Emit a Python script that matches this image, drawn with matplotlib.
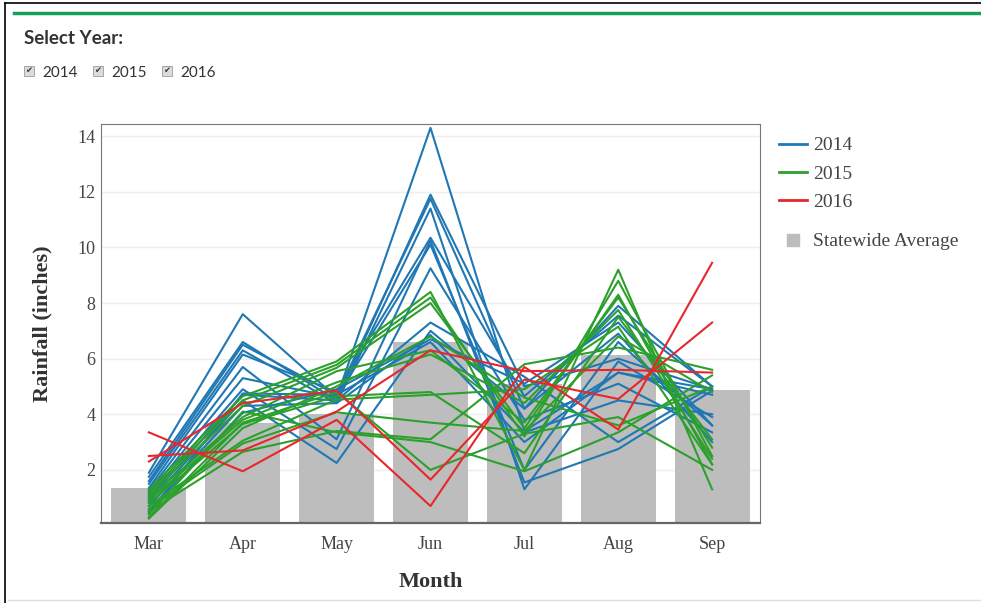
import numpy as np
import matplotlib.pyplot as plt
from matplotlib.patches import Rectangle
from matplotlib.lines import Line2D

months = ['Mar', 'Apr', 'May', 'Jun', 'Jul', 'Aug', 'Sep']
statewide_avg = [1.36, 3.7, 4.0, 6.6, 5.1, 6.15, 4.87]

# rainfall per site (inches), Mar..Sep
rain_2014 = [
    [1.90, 7.60, 4.60, 14.30, 3.40, 5.50, 4.90],
    [1.75, 6.60, 4.50, 11.90, 5.00, 6.00, 4.90],
    [1.60, 6.50, 4.70, 11.75, 4.20, 7.90, 5.00],
    [1.50, 6.30, 4.40, 11.40, 1.30, 5.90, 3.90],
    [1.35, 6.15, 4.80, 10.35, 4.65, 7.55, 5.00],
    [1.25, 5.70, 3.10, 10.25, 1.55, 2.75, 4.85],
    [1.15, 5.30, 4.60, 10.10, 2.00, 6.60, 3.60],
    [1.05, 4.90, 2.75, 9.25, 3.80, 5.10, 3.35],
    [0.95, 4.70, 4.50, 7.30, 5.35, 3.00, 5.00],
    [0.85, 4.50, 2.25, 7.00, 4.20, 6.90, 3.00],
    [0.70, 4.30, 4.40, 6.85, 3.35, 4.50, 4.00],
    [0.55, 4.05, 4.90, 6.70, 5.10, 7.30, 3.60],
    [0.45, 4.75, 4.70, 6.60, 3.00, 5.50, 4.70],
]
rain_2015 = [
    [1.30, 4.65, 5.90, 8.40, 2.00, 9.20, 1.30],
    [1.20, 4.50, 5.78, 8.20, 3.20, 8.80, 2.50],
    [1.10, 4.30, 5.67, 8.00, 3.50, 8.30, 2.20],
    [1.00, 3.90, 5.55, 6.30, 3.70, 8.20, 2.80],
    [0.90, 3.80, 5.15, 6.15, 4.40, 7.75, 2.40],
    [0.80, 3.65, 4.65, 4.80, 2.60, 7.50, 3.10],
    [0.70, 3.05, 4.53, 4.70, 4.90, 7.15, 2.20],
    [0.60, 2.95, 4.07, 3.70, 3.40, 6.80, 4.80],
    [0.50, 2.65, 3.40, 3.10, 5.80, 6.40, 5.60],
    [0.40, 4.10, 3.35, 3.00, 1.95, 3.35, 5.40],
    [0.30, 3.70, 4.80, 2.00, 3.30, 3.90, 2.00],
    [0.25, 3.50, 5.00, 6.80, 4.60, 3.60, 5.00],
]
rain_2016 = [
    [3.35, 1.95, 3.80, 0.70, 5.70, 3.45, 9.45],
    [2.30, 4.40, 4.85, 1.65, 5.25, 4.55, 7.30],
    [2.50, 2.70, 4.10, 6.30, 5.55, 5.60, 5.50],
]
years = ['2014', '2015', '2016']
year_colors = ['#1f78b4', '#2ca02c', '#e8262b']

fig = plt.figure(figsize=(9.81, 6.03), dpi=100)

# page frame / header
fig.add_artist(Line2D([0.005, 0.005], [0, 0.995], color='black', lw=1.2))
fig.add_artist(Line2D([0.005, 1], [0.995, 0.995], color='black', lw=1.2))
fig.add_artist(Line2D([0.014, 1], [0.979, 0.979], color='#12a05a', lw=2.5))
fig.add_artist(Line2D([0.008, 1], [0.005, 0.005], color='#dddddd', lw=1))

fig.text(24 / 981, 1 - 39 / 603, 'Select Year:', family='Lato', weight='bold',
         fontsize=13.5, color='#333333', va='center', ha='left')
for i, yr in enumerate(years):
    x0 = (24 + i * 69) / 981
    fig.add_artist(Rectangle((x0, 1 - 76 / 603), 10 / 981, 10 / 603,
                             facecolor='#dcdcdc', edgecolor='#9a9a9a', lw=0.6))
    fig.text(x0 + 5 / 981, 1 - 71 / 603, '\u2714', fontsize=6, color='#333333',
             ha='center', va='center', family='DejaVu Sans')
    fig.text(x0 + 18 / 981, 1 - 73 / 603, yr, family='Lato', fontsize=11,
             color='#333333', ha='left', va='center')

ax = fig.add_axes([101 / 981, 1 - 523 / 603, 659 / 981, 399 / 603])
x = np.arange(len(months))
ax.bar(x, statewide_avg, width=0.8, color='#bdbdbd', zorder=1)

for data, col in zip([rain_2014, rain_2015, rain_2016], year_colors):
    for row in data:
        ax.plot(x, row, color=col, lw=1.5, zorder=3)

ax.set_xlim(-0.51, 6.51)
ax.set_ylim(0.09, 14.44)
ax.set_xticks(x)
ax.set_xticklabels(months)
ax.set_yticks([2, 4, 6, 8, 10, 12, 14])
ax.grid(axis='y', color='#eeeeee', lw=1, zorder=0)
ax.set_axisbelow(True)
ax.tick_params(axis='both', length=0, labelsize=13, labelcolor='#444444')
ax.tick_params(axis='x', pad=9.5)
ax.tick_params(axis='y', pad=4)
for lab in ax.get_xticklabels() + ax.get_yticklabels():
    lab.set_family('Liberation Serif')
for s in ['top', 'right', 'left']:
    ax.spines[s].set_color('#777777')
    ax.spines[s].set_linewidth(0.8)
ax.spines['bottom'].set_color('#666666')
ax.spines['bottom'].set_linewidth(1.6)

ax.set_ylabel('Rainfall (inches)', family='Liberation Serif', weight='bold',
              fontsize=16, color='#333333')
ax.set_xlabel('Month', family='Liberation Serif', weight='bold',
              fontsize=16, color='#333333')
ax.yaxis.set_label_coords(-0.073, 0.5)
ax.xaxis.set_label_coords(0.5, -0.122)

handles = [Line2D([], [], color=c, lw=2) for c in year_colors]
leg1 = ax.legend(handles, years, loc='upper left', bbox_to_anchor=(1.0174, 0.9875),
                 frameon=False, handlelength=1.45, handletextpad=0.3,
                 labelspacing=0.55, borderaxespad=0,
                 prop={'family': 'Liberation Serif', 'size': 14})
for t in leg1.get_texts():
    t.set_color('#444444')
ax.add_artist(leg1)
leg2 = ax.legend([Line2D([], [], ls='none', marker='s', ms=9, color='#bdbdbd')],
                 ['Statewide Average'], loc='upper left',
                 bbox_to_anchor=(1.0174, 0.747), frameon=False, handlelength=1.45,
                 handletextpad=0.3, borderaxespad=0,
                 prop={'family': 'Liberation Serif', 'size': 14})
for t in leg2.get_texts():
    t.set_color('#444444')

plt.savefig('out.png', dpi=100)
